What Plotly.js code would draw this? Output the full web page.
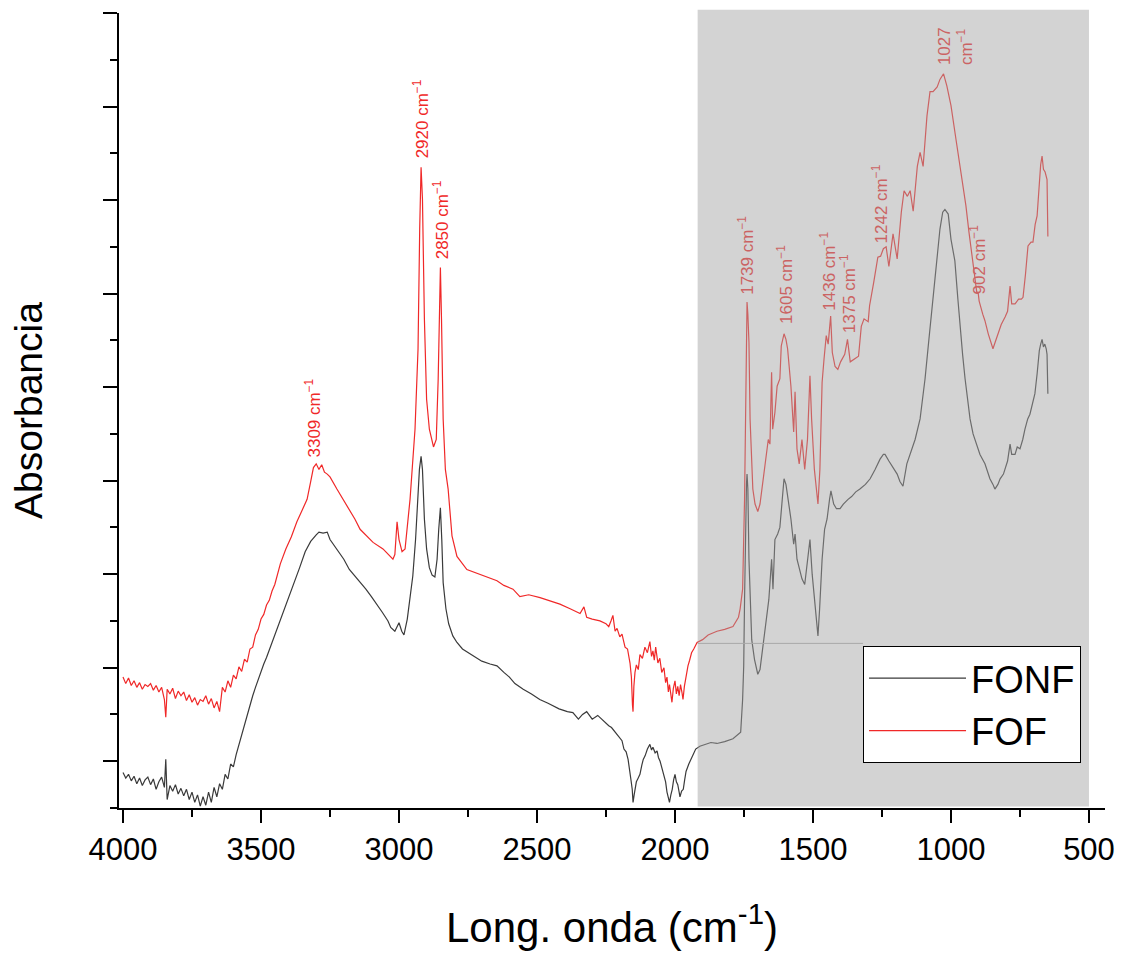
<!DOCTYPE html>
<html>
<head>
<meta charset="utf-8">
<script src="https://cdn.plot.ly/plotly-3.0.1.min.js"></script>
<style>html,body{margin:0;padding:0;background:#fff;}#chart{width:1123px;height:957px;}</style>
</head>
<body>
<div id="chart"></div>
<script>
// ---- data (wavenumber in cm^-1, absorbance in arbitrary units) ----
const fonfWavenumber = [4000,3990,3980,3970,3960,3950,3940,3930,3920,3910,3900,3890,3880,3870,3860,3850,3845,3840,3830,3820,3810,3800,3790,3780,3770,3760,3750,3740,3730,3720,3710,3700,3690,3680,3670,3660,3650,3640,3630,3620,3610,3600,3590,3580,3570,3560,3550,3540,3530,3520,3510,3500,3490,3480,3470,3460,3450,3440,3430,3420,3410,3400,3380,3360,3340,3320,3300,3290,3275,3260,3250,3230,3200,3180,3150,3120,3100,3080,3060,3040,3030,3015,3000,2990,2982,2970,2960,2950,2940,2932,2926,2920,2915,2908,2900,2890,2880,2870,2862,2856,2850,2845,2840,2830,2820,2805,2790,2770,2754,2720,2700,2670,2645,2620,2600,2580,2550,2520,2490,2460,2420,2390,2370,2350,2335,2320,2300,2280,2260,2240,2230,2220,2210,2200,2192,2185,2177,2170,2164,2160,2155,2152,2148,2145,2140,2135,2127,2120,2115,2108,2100,2091,2085,2080,2072,2065,2060,2054,2047,2040,2034,2029,2024,2020,2015,2010,2005,2000,1995,1990,1985,1982,1976,1970,1965,1960,1950,1940,1925,1910,1890,1870,1848,1820,1790,1770,1762,1755,1751,1748,1744,1741,1739,1736,1732,1727,1722,1712,1700,1692,1682,1670,1660,1650,1645,1638,1628,1620,1610,1605,1598,1590,1580,1570,1565,1558,1548,1540,1530,1520,1511,1503,1495,1488,1482,1476,1467,1458,1449,1440,1435,1425,1415,1402,1390,1373,1360,1345,1330,1310,1293,1275,1257,1245,1239,1225,1210,1195,1185,1174,1160,1149,1130,1112,1100,1094,1080,1070,1058,1040,1030,1022,1010,1000,986,975,967,958,949,940,931,920,913,895,877,859,848,841,830,822,810,804,795,786,780,768,760,750,740,732,722,714,705,696,688,680,675,670,665,660,655,652,649];
const fonfAbsorbance = [-0.12,-0.18,-0.14,-0.21,-0.16,-0.24,-0.18,-0.26,-0.20,-0.17,-0.25,-0.19,-0.30,-0.22,-0.17,-0.28,0.02,-0.41,-0.26,-0.32,-0.25,-0.35,-0.29,-0.37,-0.30,-0.41,-0.33,-0.44,-0.36,-0.48,-0.38,-0.47,-0.33,-0.44,-0.28,-0.38,-0.24,-0.30,-0.14,-0.19,-0.03,-0.06,0.07,0.18,0.29,0.38,0.49,0.61,0.70,0.79,0.88,0.96,1.04,1.11,1.19,1.26,1.34,1.41,1.50,1.58,1.67,1.75,1.89,2.07,2.24,2.35,2.42,2.45,2.44,2.45,2.37,2.29,2.16,2.05,1.95,1.84,1.76,1.68,1.59,1.50,1.43,1.39,1.48,1.39,1.35,1.52,1.73,1.98,2.37,2.80,3.12,3.26,3.12,2.59,2.27,2.07,1.99,1.97,2.16,2.48,2.71,2.37,1.91,1.63,1.47,1.34,1.27,1.20,1.17,1.11,1.07,1.04,1.02,0.95,0.90,0.83,0.77,0.72,0.66,0.62,0.56,0.53,0.52,0.45,0.50,0.53,0.45,0.49,0.43,0.38,0.36,0.32,0.28,0.24,0.22,0.13,0.10,0.02,-0.08,-0.19,-0.30,-0.44,-0.36,-0.30,-0.22,-0.19,-0.14,-0.04,0.02,0.06,0.13,0.18,0.12,0.15,0.09,0.11,0.04,0.00,-0.08,-0.14,-0.22,-0.33,-0.40,-0.44,-0.36,-0.30,-0.20,-0.14,-0.22,-0.25,-0.33,-0.38,-0.32,-0.30,-0.20,-0.11,-0.03,0.04,0.13,0.16,0.18,0.20,0.19,0.21,0.24,0.29,0.31,0.66,1.02,1.73,2.59,2.96,3.07,2.91,2.16,1.73,1.30,1.09,0.93,0.98,1.20,1.52,1.73,2.16,1.84,2.37,2.43,2.50,2.91,3.02,2.96,2.80,2.59,2.32,2.43,2.16,2.05,1.95,1.89,2.16,2.37,2.00,1.73,1.52,1.34,1.63,2.16,2.48,2.59,2.80,2.89,2.75,2.70,2.70,2.75,2.80,2.83,2.88,2.91,2.96,3.02,3.12,3.23,3.28,3.28,3.21,3.14,3.07,2.99,2.94,3.18,3.28,3.44,3.66,3.93,4.09,4.51,4.83,5.16,5.69,5.87,5.90,5.85,5.58,5.35,4.94,4.62,4.35,4.09,3.85,3.66,3.50,3.44,3.28,3.18,3.02,2.96,2.91,2.96,3.02,3.07,3.12,3.21,3.39,3.28,3.28,3.36,3.34,3.44,3.55,3.66,3.71,3.82,3.93,4.14,4.39,4.46,4.51,4.43,4.46,4.41,4.35,3.93];

const fofWavenumber = [4000,3990,3980,3970,3960,3950,3940,3930,3920,3910,3900,3890,3880,3870,3860,3850,3845,3840,3830,3820,3810,3800,3790,3780,3770,3760,3750,3740,3730,3720,3710,3700,3690,3680,3670,3660,3650,3645,3640,3630,3620,3610,3600,3590,3580,3570,3560,3550,3540,3530,3520,3510,3500,3490,3480,3470,3460,3450,3430,3410,3390,3370,3350,3333,3320,3310,3300,3290,3280,3270,3260,3250,3225,3188,3160,3141,3094,3058,3022,3015,3007,3000,2989,2978,2960,2942,2931,2925,2920,2915,2908,2900,2890,2875,2865,2858,2853,2850,2846,2840,2832,2822,2808,2790,2754,2707,2680,2645,2620,2587,2562,2530,2489,2450,2417,2380,2344,2330,2320,2300,2272,2250,2240,2232,2225,2217,2210,2200,2192,2181,2172,2163,2158,2154,2152,2149,2145,2140,2133,2127,2118,2109,2100,2091,2085,2080,2075,2070,2062,2055,2048,2040,2034,2029,2024,2020,2015,2011,2006,2000,1995,1990,1985,1980,1975,1971,1966,1960,1953,1947,1940,1932,1920,1900,1880,1848,1820,1790,1770,1764,1755,1748,1744,1741,1739,1736,1732,1728,1724,1718,1710,1700,1692,1680,1670,1662,1656,1650,1646,1638,1630,1620,1615,1605,1598,1592,1580,1570,1565,1558,1550,1540,1530,1520,1511,1505,1495,1488,1482,1475,1467,1460,1452,1445,1436,1430,1420,1410,1400,1385,1375,1365,1350,1335,1325,1315,1300,1295,1280,1265,1255,1245,1235,1225,1210,1195,1180,1170,1158,1148,1137,1122,1112,1101,1087,1076,1065,1050,1040,1027,1015,1000,982,964,946,935,920,910,906,902,898,885,877,865,855,848,840,830,818,804,795,786,780,768,755,745,739,730,721,710,703,695,688,680,675,670,665,659,655,652,649];
const fofAbsorbance = [0.90,0.83,0.89,0.81,0.86,0.79,0.84,0.77,0.82,0.80,0.83,0.76,0.81,0.74,0.79,0.66,0.47,0.77,0.72,0.78,0.67,0.75,0.70,0.74,0.65,0.71,0.63,0.68,0.60,0.66,0.64,0.70,0.61,0.67,0.57,0.64,0.53,0.66,0.79,0.74,0.86,0.79,0.92,0.88,1.01,0.96,1.09,1.06,1.20,1.22,1.35,1.41,1.52,1.57,1.67,1.72,1.82,1.89,2.11,2.27,2.40,2.56,2.70,2.80,2.99,3.14,3.18,3.12,3.17,3.09,3.07,3.04,2.91,2.73,2.59,2.48,2.34,2.27,2.16,2.21,2.56,2.37,2.24,2.27,2.80,3.55,4.41,5.69,6.35,6.01,4.73,3.87,3.55,3.36,3.44,4.09,4.94,5.28,4.73,3.66,3.12,2.91,2.41,2.19,2.05,2.00,1.97,1.93,1.88,1.84,1.76,1.78,1.75,1.71,1.68,1.63,1.58,1.65,1.54,1.52,1.50,1.47,1.44,1.50,1.56,1.39,1.42,1.33,1.36,1.22,1.20,1.05,0.90,0.60,0.53,0.80,0.95,1.03,0.98,1.14,1.10,1.22,1.16,1.28,1.12,1.18,1.08,1.22,1.05,1.10,0.95,1.00,0.84,0.90,0.74,0.82,0.68,0.63,0.78,0.86,0.72,0.80,0.70,0.82,0.74,0.66,0.80,0.92,1.02,1.08,1.16,1.20,1.27,1.30,1.35,1.39,1.41,1.44,1.54,1.63,1.84,2.80,4.09,4.73,4.91,4.78,4.48,3.66,3.34,2.91,2.75,2.67,2.75,3.02,3.23,3.44,3.39,4.16,3.55,3.73,4.01,4.09,4.44,4.57,4.51,4.41,4.01,3.52,3.95,3.34,3.18,3.44,3.12,3.44,4.12,3.66,3.12,2.91,2.75,3.12,4.05,4.30,4.55,4.46,4.76,4.37,4.22,4.19,4.27,4.35,4.51,4.27,4.30,4.33,4.65,4.73,4.70,4.87,5.12,5.39,5.40,5.48,5.50,5.29,5.64,5.37,5.87,6.10,6.04,6.10,5.88,6.36,6.51,6.36,6.90,7.16,7.16,7.21,7.29,7.35,7.22,7.01,6.65,6.30,5.94,5.66,5.32,5.05,5.00,5.02,4.92,4.78,4.71,4.57,4.46,4.41,4.48,4.57,4.67,4.75,4.81,5.08,4.89,4.89,4.94,4.94,4.96,5.21,5.51,5.55,5.55,5.74,5.83,6.17,6.38,6.47,6.33,6.30,6.25,6.22,5.61];

const seriesNames = ['FONF', 'FOF'];
const peakLabelText = ['3309 cm<sup>\u22121</sup>', '2920 cm<sup>\u22121</sup>', '2850 cm<sup>\u22121</sup>', '1739 cm<sup>\u22121</sup>', '1605 cm<sup>\u22121</sup>', '1436 cm<sup>\u22121</sup>', '1375 cm<sup>\u22121</sup>', '1242 cm<sup>\u22121</sup>', '1027<br>cm<sup>\u22121</sup>', '902 cm<sup>\u22121</sup>'];
const peakLabelX = [3312, 2920, 2848, 1743, 1601, 1446, 1373, 1257, 986, 902];
const peakLabelY = [3.23, 6.42, 5.35, 4.97, 4.65, 4.80, 4.55, 5.51, 7.42, 4.97];
const shadedRegion = [1918, 500];

// ---- chart ----
const FONT = '"Liberation Sans", Arial, sans-serif';
const traces = [
  {x: fonfWavenumber, y: fonfAbsorbance, name: seriesNames[0], type: 'scatter', mode: 'lines',
   line: {color: '#3a3a3a', width: 1.2}},
  {x: fofWavenumber, y: fofAbsorbance, name: seriesNames[1], type: 'scatter', mode: 'lines',
   line: {color: '#f02828', width: 1.2}}
];

const annotations = peakLabelText.map((t, i) => ({
  x: peakLabelX[i], y: peakLabelY[i], xref: 'x', yref: 'y',
  text: t, showarrow: false, textangle: -90, align: 'left',
  xanchor: 'center', yanchor: 'bottom',
  font: {family: FONT, size: 17, color: peakLabelX[i] < shadedRegion[0] ? '#cb6363' : '#f02828'}
}));

const layout = {
  width: 1123, height: 957,
  margin: {l: 119, r: 18, t: 13, b: 149},
  paper_bgcolor: '#ffffff', plot_bgcolor: '#ffffff',
  font: {family: FONT, color: '#000'},
  showlegend: true,
  legend: {x: 0.7546, y: 0.2038, xanchor: 'left', yanchor: 'top',
    bgcolor: '#ffffff', bordercolor: '#000', borderwidth: 1,
    font: {family: FONT, size: 38, color: '#000'}, itemwidth: 97, tracegroupgap: 0},
  xaxis: {
    range: [4014.5, 442], showgrid: false, zeroline: false,
    showline: true, linecolor: '#000', linewidth: 2,
    ticks: 'outside', ticklen: 13, tickwidth: 2, tickcolor: '#000',
    tick0: 0, dtick: 500,
    minor: {dtick: 250, ticks: 'outside', ticklen: 7, tickwidth: 2, tickcolor: '#000', showgrid: false},
    tickfont: {family: FONT, size: 31, color: '#000'},
    title: {text: 'Long. onda (cm<sup>-1</sup>)', font: {family: FONT, size: 42, color: '#000'}, standoff: 46}
  },
  yaxis: {
    range: [-0.5, 8], showgrid: false, zeroline: false,
    showline: true, linecolor: '#000', linewidth: 2,
    ticks: 'outside', ticklen: 14, tickwidth: 2, tickcolor: '#000',
    tick0: 0, dtick: 1, showticklabels: false,
    minor: {dtick: 0.5, ticks: 'outside', ticklen: 7, tickwidth: 2, tickcolor: '#000', showgrid: false},
    title: {text: 'Absorbancia', font: {family: FONT, size: 39, color: '#000'}, standoff: 48}
  },
  shapes: [
    {type: 'rect', xref: 'x', yref: 'paper', x0: shadedRegion[0], x1: shadedRegion[1], y0: 0.002, y1: 1.004,
     fillcolor: 'rgba(163,163,163,0.48)', line: {width: 0}, layer: 'above'},
    {type: 'line', xref: 'x', yref: 'y', x0: shadedRegion[0], x1: 1319, y0: 1.26, y1: 1.26,
     line: {color: '#a8a8a8', width: 1}, layer: 'above'}
  ],
  annotations: annotations
};

Plotly.newPlot('chart', traces, layout, {displayModeBar: false, staticPlot: true});
</script>
</body>
</html>
